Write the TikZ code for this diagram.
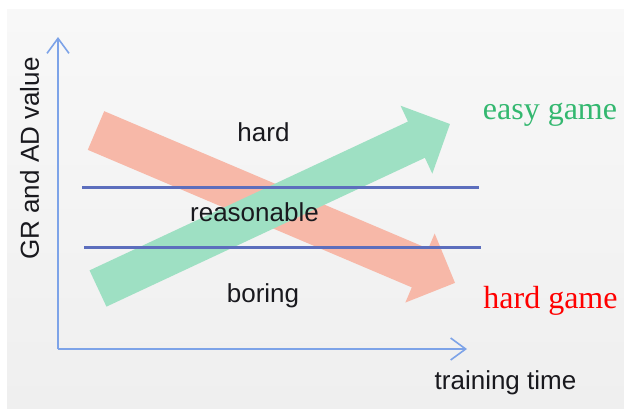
\documentclass[tikz,border=0pt]{standalone}
\usepackage{fontspec}
\setmainfont{Liberation Serif}
\setsansfont{Liberation Sans}
\usetikzlibrary{arrows.meta}
\definecolor{axisblue}{RGB}{125,163,232}
\definecolor{lineblue}{RGB}{92,110,189}
\definecolor{redarrow}{RGB}{247,184,168}
\definecolor{greenarrow}{RGB}{158,224,195}
\definecolor{easygreen}{RGB}{52,184,112}
\definecolor{txt}{RGB}{25,25,30}
\definecolor{bgtop}{RGB}{248,248,248}
\definecolor{bgbot}{RGB}{239,239,239}
\tikzset{
  axisline/.style={draw=axisblue, line width=1.6pt, -{Straight Barb[length=15pt,width=22pt,line width=1.6pt]}},
  bandline/.style={draw=lineblue, line width=3pt},
  zonelabel/.style={font=\sffamily\fontsize{26}{30}\selectfont, text=txt, inner sep=0pt},
  gamelabel/.style={font=\rmfamily\fontsize{32}{36}\selectfont, inner sep=0pt},
}
\begin{document}
\begin{tikzpicture}[x=1pt,y=-1pt]
\useasboundingbox (0,0) rectangle (624,408);
\fill[white] (0,0) rectangle (624,408);
\shade[top color=bgtop, bottom color=bgbot] (7,9) rectangle (624,408);

% red arrow (hard game)
\begin{scope}[shift={(96,130.5)}, rotate=-23.0]
\fill[redarrow] (0,-21) -- (352,-21) -- (352,-37.5) -- (390,0) -- (352,37.5) -- (352,21) -- (0,21) -- cycle;
\end{scope}
% green arrow (easy game)
\begin{scope}[shift={(98,288.5)}, rotate=25.05]
\fill[greenarrow] (0,-20) -- (351.5,-20) -- (351.5,-37.5) -- (388.5,0) -- (351.5,37.5) -- (351.5,20) -- (0,20) -- cycle;
\end{scope}

% axes
\coordinate (O) at (58,349);
\coordinate (ytop) at (58,37);
\coordinate (xend) at (467,349);
\draw[axisline] (O) -- (ytop);
\draw[axisline] (O) -- (xend);

% band lines
\coordinate (l1a) at (82,187);
\coordinate (l1b) at (479,187);
\coordinate (l2a) at (84,247);
\coordinate (l2b) at (481,247);
\draw[bandline] (l1a) -- (l1b);
\draw[bandline] (l2a) -- (l2b);

% labels
\node[zonelabel] (hard) at (263.5,132) {hard};
\node[zonelabel] (reasonable) at (254.5,212.5) {reasonable};
\node[zonelabel] (boring) at (263,296) {boring};
\node[zonelabel] (xlabel) at (505.5,383) {training time};
\node[zonelabel, rotate=90] (ylabel) at (29.5,158.5) {GR and AD value};
\node[gamelabel, text=easygreen] (easy) at (550,115) {easy game};
\node[gamelabel, text=red] (hardgame) at (550.5,300.5) {hard game};
\end{tikzpicture}
\end{document}
